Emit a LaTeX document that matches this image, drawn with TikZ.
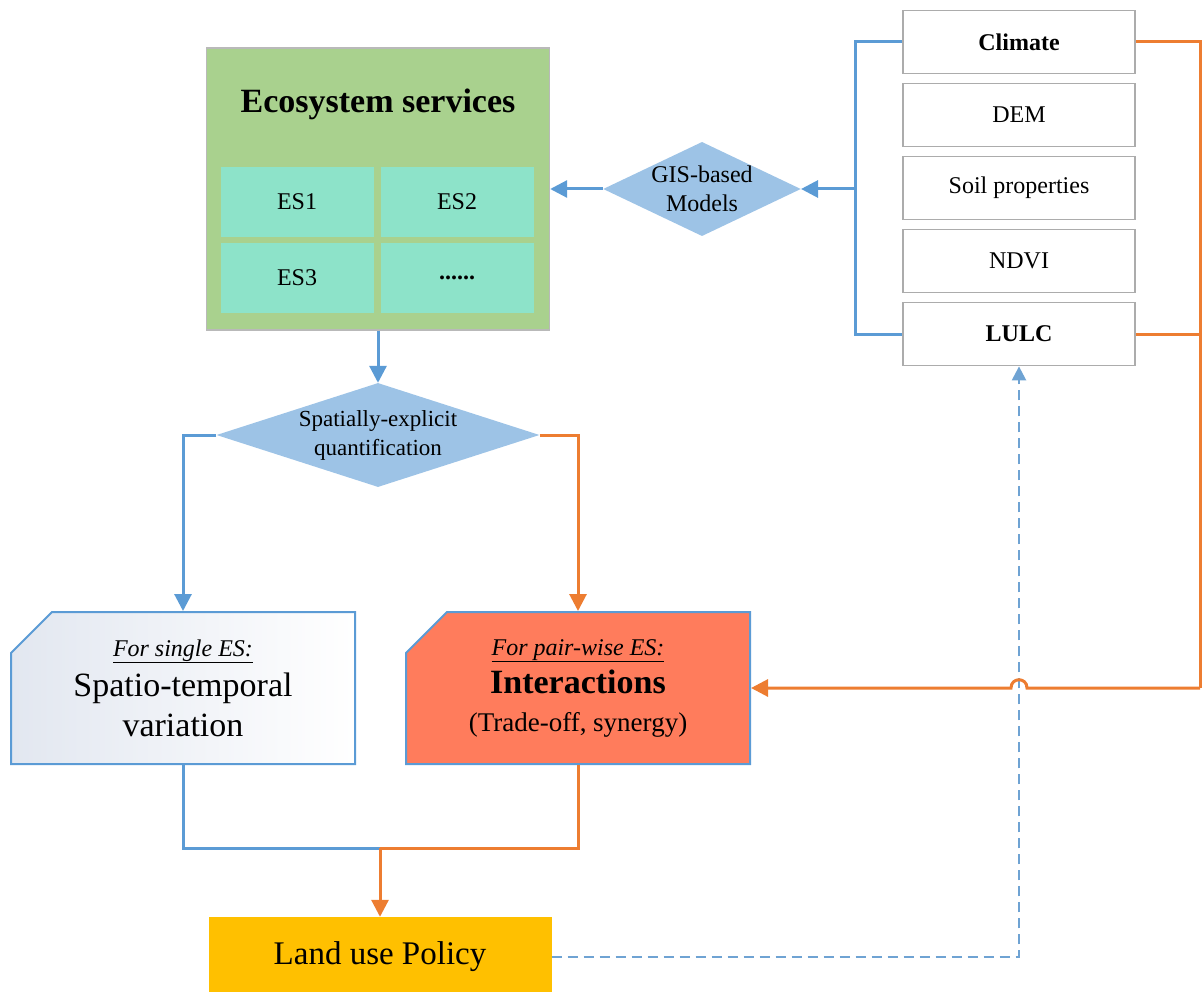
\documentclass[tikz,border=0pt]{standalone}
\usepackage{fontspec}
\setmainfont{Liberation Serif}
\usetikzlibrary{arrows.meta,shapes.geometric,shapes.misc}

\definecolor{esgreen}{HTML}{A9D18E}
\definecolor{escyan}{HTML}{8DE3C9}
\definecolor{flowblue}{HTML}{5B9BD5}
\definecolor{floworange}{HTML}{ED7D31}
\definecolor{decisionblue}{HTML}{9DC3E6}
\definecolor{pairred}{HTML}{FF7C5C}
\definecolor{policygold}{HTML}{FFC000}
\definecolor{singleshade}{HTML}{E2E7F0}
\definecolor{dashblue}{HTML}{6FA3D3}

\begin{document}
\begin{tikzpicture}[x=1pt,y=-1pt,
    flow/.style={line width=3pt},
    blueflow/.style={flow,draw=flowblue},
    orangeflow/.style={flow,draw=floworange},
    head/.style={-{Triangle[length=17pt,width=17pt]}},
    smallhead/.style={-{Triangle[length=14pt,width=14pt]}},
    feedback/.style={draw=dashblue,line width=2.4pt,dash pattern=on 10pt off 6pt},
    inputbox/.style={draw=gray!65,line width=1.8pt,fill=white,minimum width=232pt,minimum height=63pt,inner sep=0pt,font=\fontsize{24}{28}\selectfont},
    escell/.style={fill=escyan,minimum width=153pt,minimum height=70pt,inner sep=0pt,font=\fontsize{24}{28}\selectfont},
    decision/.style={diamond,fill=decisionblue,inner sep=0pt,align=center},
    resultbox/.style={chamfered rectangle,chamfered rectangle corners=north west,chamfered rectangle xsep=20.5pt,chamfered rectangle ysep=20.5pt,draw=flowblue,line width=2pt,minimum width=344pt,minimum height=152pt,inner sep=0pt,align=center}
]
\useasboundingbox (0,0) rectangle (1204,992);

% input layers
\foreach \name/\txt/\y in {climate/\textbf{Climate}/42, dem/DEM/115, soil/Soil properties/188, ndvi/NDVI/261, lulc/\textbf{LULC}/334}
  \node[inputbox] (\name) at (1019,\y) {\txt};

% ecosystem services
\node[draw=gray!55,line width=1.4pt,fill=esgreen,minimum width=343pt,minimum height=282pt] (es) at (378,189) {};
\node[font=\fontsize{34}{40}\selectfont\bfseries] (estitle) at (378,104) {Ecosystem services};
\node[escell] (es1) at (297,202) {ES1};
\node[escell] (es2) at (457,202) {ES2};
\node[escell] (es3) at (297,278) {ES3};
\node[escell] (esmore) at (457,278) {\textbf{......}};

% models
\node[decision,minimum width=195pt,minimum height=93pt,aspect=2.1,font=\fontsize{24}{29}\selectfont] (gis) at (702,189) {GIS-based\\Models};
\node[decision,minimum width=323pt,minimum height=104pt,aspect=3.1,font=\fontsize{23}{29}\selectfont] (spatial) at (378,435) {Spatially-explicit\\quantification};

% results
\node[resultbox,left color=singleshade,right color=white,font=\fontsize{34}{40}\selectfont] (single) at (183,688) {{\fontsize{24}{28}\selectfont\underline{\textit{For single ES:}}}\\Spatio-temporal\\variation};
\node[resultbox,fill=pairred,font=\fontsize{34}{38}\selectfont] (pair) at (578,688) {{\fontsize{24}{28}\selectfont\underline{\textit{For pair-wise ES:}}}\\\textbf{Interactions}\\{\fontsize{27}{32}\selectfont(Trade-off, synergy)}};

% policy
\node[fill=policygold,minimum width=343pt,minimum height=80pt,inner sep=0pt,font=\fontsize{33}{38}\selectfont] (policy) at (380,957) {Land use Policy};

% connectors
\coordinate (inbus) at (855,189);
\draw[blueflow] (climate.west) -| (inbus) |- (lulc.west);
\draw[blueflow,head] (inbus) -- (gis.east);
\draw[blueflow,head] (gis.west) -- (es.east);
\draw[blueflow,head] (es.south) -- (spatial.north);
\draw[blueflow,head] (spatial.west) -| (single.north);
\draw[orangeflow,head] (spatial.east) -| (pair.north);

\coordinate (merge) at (380,848);
\draw[blueflow] (single.south) |- (merge);
\draw[orangeflow] (pair.south) |- (merge);
\draw[orangeflow,head] (merge) -- (policy.north);

\draw[feedback,smallhead] (policy.east) -| (lulc.south);

\coordinate (rturn) at (1200,688);
\coordinate (hop) at (1019,688);
\draw[orangeflow] (climate.east) -| (rturn);
\draw[orangeflow] (lulc.east) -- (lulc.east -| rturn);
\draw[orangeflow,head] (rturn) -- ([xshift=8pt]hop) .. controls +(0,-11) and +(0,-11) .. ([xshift=-8pt]hop) -- (pair.east);

\end{tikzpicture}
\end{document}
